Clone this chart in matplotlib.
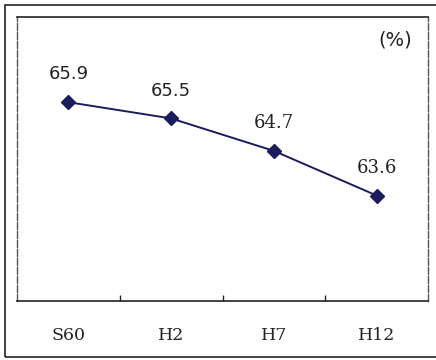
import matplotlib.pyplot as plt
from matplotlib.patches import Rectangle

# ratio by survey year
years = ['S60', 'H2', 'H7', 'H12']
ratio = [65.9, 65.5, 64.7, 63.6]
label_fonts = ['DejaVu Sans', 'DejaVu Sans', 'DejaVu Serif', 'DejaVu Serif']

navy = '#1c1c5c'

fig = plt.figure(figsize=(4.36, 3.6), dpi=100)
ax = fig.add_axes([17/436, 1-301/360, 411/436, 284/360])

x = list(range(len(years)))
ax.plot(x, ratio, color=navy, lw=1.4, marker='D', ms=7,
        mfc=navy, mec=navy)

for xi, v, f in zip(x, ratio, label_fonts):
    ax.annotate('%.1f' % v, (xi, v), xytext=(0, 20), textcoords='offset points',
                ha='center', va='center', fontsize=13, family=f, color='#222222')

ax.text(378/436, 1-40/360, '(%)', transform=fig.transFigure, ha='left', va='center',
        fontsize=14, family='DejaVu Sans', color='#222222')

ax.set_xlim(-0.5, 3.5)
ax.set_ylim(61, 68)
ax.set_yticks([])

# tick marks between categories, labels under each category
ax.set_xticks([0.5, 1.5, 2.5])
ax.set_xticklabels([])
ax.tick_params(axis='x', which='major', direction='in', length=4, width=1, color='#222222')
ax.set_xticks(x, minor=True)
ax.set_xticklabels(years, minor=True, family='DejaVu Serif', fontsize=12.5, color='#222222')
ax.tick_params(axis='x', which='minor', length=0, pad=19)

for s in ['top', 'bottom']:
    ax.spines[s].set_color('#222222')
    ax.spines[s].set_linewidth(1.2)
for s in ['left', 'right']:
    ax.spines[s].set_color('#555555')
    ax.spines[s].set_linewidth(1.0)
    ax.spines[s].set_linestyle((0, (5, 1.5)))

# outer frame, runs off the right edge
fig.patches.append(Rectangle((5/436, 3/360), 1.05, 352/360, transform=fig.transFigure,
                             fill=False, ec='#222222', lw=1.2))

fig.savefig('out.png', dpi=100)
